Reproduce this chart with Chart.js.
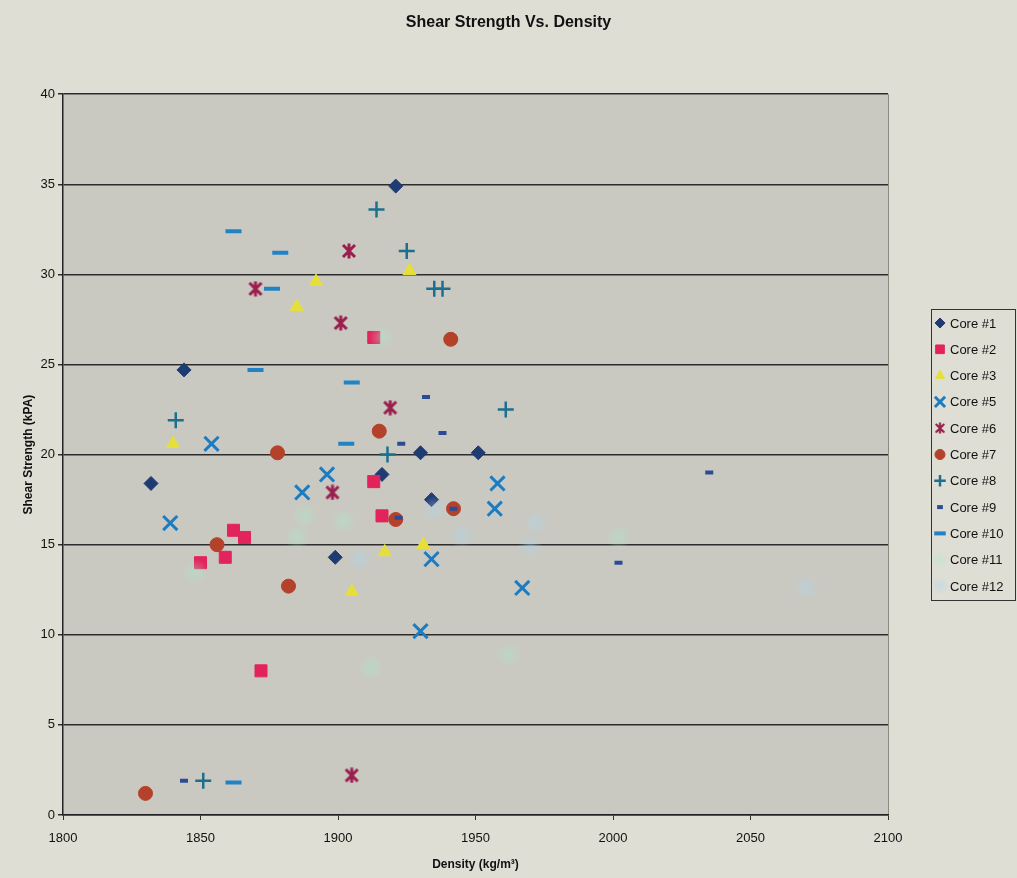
<!DOCTYPE html>
<html>
<head>
<meta charset="utf-8">
<title>Shear Strength Vs. Density</title>
<script src="https://cdn.jsdelivr.net/npm/chart.js@4.4.1/dist/chart.umd.min.js"></script>
<style>
  html, body { margin: 0; padding: 0; background: #dfded5; }
  #wrap { position: relative; width: 1017px; height: 878px; }
</style>
</head>
<body>
<div id="wrap"><canvas id="chart"></canvas></div>
<script>
// values: [density kg/m3, shear strength kPa]
const coreNames = ['Core #1', 'Core #2', 'Core #3', 'Core #5', 'Core #6', 'Core #7',
  'Core #8', 'Core #9', 'Core #10', 'Core #11', 'Core #12'];

const core1 = [[1832, 18.4], [1844, 24.7], [1921, 34.9], [1899, 14.3], [1916, 18.9], [1930, 20.1], [1934, 17.5], [1951, 20.1]];
const core2 = [[1913, 26.5], [1913, 18.5], [1916, 16.6], [1862, 15.8], [1866, 15.4], [1859, 14.3], [1850, 14.0], [1872, 8.0]];
const core3 = [[1840, 20.6], [1885, 28.2], [1892, 29.6], [1926, 30.2], [1917, 14.6], [1931, 15.0], [1905, 12.4]];
const core5 = [[1839, 16.2], [1854, 20.6], [1887, 17.9], [1896, 18.9], [1958, 18.4], [1957, 17.0], [1934, 14.2], [1967, 12.6], [1930, 10.2]];
const core6 = [[1870, 29.2], [1904, 31.3], [1901, 27.3], [1919, 22.6], [1898, 17.9], [1905, 2.2]];
const core7 = [[1830, 1.2], [1856, 15.0], [1882, 12.7], [1878, 20.1], [1915, 21.3], [1941, 26.4], [1942, 17.0], [1921, 16.4]];
const core8 = [[1841, 21.9], [1851, 1.9], [1914, 33.6], [1925, 31.3], [1935, 29.2], [1938, 29.2], [1961, 22.5], [1918, 20.0]];
const core9 = [[1844, 1.9], [1932, 23.2], [1938, 21.2], [1923, 20.6], [2035, 19.0], [2002, 14.0], [1922, 16.5], [1942, 17.0]];
const core10 = [[1862, 32.4], [1879, 31.2], [1876, 29.2], [1870, 24.7], [1905, 24.0], [1903, 20.6], [1862, 1.8]];
const core11 = [[1916, 26.5], [1888, 16.6], [1902, 16.3], [1885, 15.4], [1912, 8.2], [1962, 8.9], [2002, 15.4], [1848, 13.5]];
const core12 = [[2070, 12.6], [1972, 16.2], [1970, 14.9], [1945, 15.5], [1908, 14.2], [1935, 17.0]];

const densityTicks = [1800, 1850, 1900, 1950, 2000, 2050, 2100];
const strengthTicks = [0, 5, 10, 15, 20, 25, 30, 35, 40];

const allCores = [core1, core2, core3, core5, core6, core7, core8, core9, core10, core11, core12];

// excel style star: an X with a vertical bar
function starMarker(color, size, lw) {
  const c = document.createElement('canvas');
  c.width = c.height = size;
  const g = c.getContext('2d');
  g.strokeStyle = color;
  g.lineWidth = lw;
  const m = lw / 2 + 0.5, e = size - m;
  g.beginPath();
  g.moveTo(m, m); g.lineTo(e, e);
  g.moveTo(e, m); g.lineTo(m, e);
  g.moveTo(size / 2, 0.5); g.lineTo(size / 2, size - 0.5);
  g.stroke();
  return c;
}

// washed out markers of the last two cores
function ghostMarker(rgb, size) {
  const c = document.createElement('canvas');
  c.width = c.height = size;
  const g = c.getContext('2d');
  const grad = g.createRadialGradient(size / 2, size / 2, 0, size / 2, size / 2, size / 2);
  grad.addColorStop(0, 'rgba(' + rgb + ',0.45)');
  grad.addColorStop(0.5, 'rgba(' + rgb + ',0.22)');
  grad.addColorStop(1, 'rgba(' + rgb + ',0)');
  g.fillStyle = grad;
  g.fillRect(0, 0, size, size);
  return c;
}

const markers = [
  {style: 'rectRot', r: 7, color: '#1f3b73', w: 1},
  {style: 'rect', r: 8.5, color: '#e3245c', w: 1},
  {style: 'triangle', r: 7.5, color: '#e6df3a', w: 1},
  {style: 'crossRot', r: 10, color: '#1c7cc2', w: 3},
  {style: starMarker('#9a1f4e', 16, 3), color: '#9a1f4e'},
  {style: 'circle', r: 7, color: '#b4412a', w: 1},
  {style: 'cross', r: 8, color: '#1d6f8e', w: 2.5},
  {style: 'line', r: 4, color: '#2b4a98', w: 4},
  {style: 'line', r: 8, color: '#1f83c6', w: 4},
  {style: ghostMarker('170,235,200', 26), color: 'rgba(170,235,200,0.4)'},
  {style: ghostMarker('170,215,240', 26), color: 'rgba(170,215,240,0.4)'}
];

const datasets = allCores.map((pts, i) => {
  const mk = markers[i];
  return {
    label: coreNames[i],
    data: pts.map(p => ({x: p[0], y: p[1]})),
    pointStyle: mk.style,
    pointRadius: mk.r || 8,
    pointHoverRadius: mk.r || 8,
    pointBorderWidth: mk.w || 1,
    pointBackgroundColor: mk.color,
    pointBorderColor: mk.color,
    showLine: false,
    order: 20 - i
  };
});

const plotBg = {
  id: 'plotBg',
  beforeDraw(chart) {
    const a = chart.chartArea, ctx = chart.ctx;
    ctx.save();
    ctx.fillStyle = '#cac9c1';
    ctx.fillRect(a.left, a.top, a.right - a.left, a.bottom - a.top);
    ctx.strokeStyle = '#8a8984';
    ctx.lineWidth = 1;
    ctx.beginPath();
    ctx.moveTo(a.right + 0.5, a.top);
    ctx.lineTo(a.right + 0.5, a.bottom);
    ctx.stroke();
    ctx.restore();
  }
};

const boxLegend = {
  id: 'boxLegend',
  afterDraw(chart) {
    const ctx = chart.ctx;
    const left = 931, top = 309, width = 84, height = 291;
    const step = 26.3;
    ctx.save();
    ctx.strokeStyle = '#333';
    ctx.lineWidth = 1;
    ctx.strokeRect(left + 0.5, top + 0.5, width, height);
    ctx.font = '13px "Liberation Sans", Arial, sans-serif';
    ctx.textBaseline = 'middle';
    ctx.textAlign = 'left';
    coreNames.forEach((name, i) => {
      const mk = markers[i];
      const y = top + 14 + i * step;
      const x = left + 9;
      if (typeof mk.style === 'string') {
        ctx.fillStyle = mk.color;
        ctx.strokeStyle = mk.color;
        ctx.lineWidth = mk.w;
        Chart.helpers.drawPoint(ctx, {
          pointStyle: mk.style,
          radius: mk.r * 0.72,
          borderWidth: mk.w,
          rotation: 0
        }, x, y);
      } else {
        const s = mk.style.width * 0.72;
        ctx.drawImage(mk.style, x - s / 2, y - s / 2, s, s);
      }
      ctx.fillStyle = '#111';
      ctx.fillText(name, left + 19, y + 1);
    });
    ctx.restore();
  }
};

new Chart(document.getElementById('chart'), {
  type: 'scatter',
  data: {datasets: datasets},
  plugins: [plotBg, boxLegend],
  options: {
    responsive: true,
    maintainAspectRatio: false,
    animation: false,
    layout: {padding: 0},
    plugins: {
      legend: {display: false},
      tooltip: {enabled: false},
      title: {
        display: true,
        text: 'Shear Strength Vs. Density',
        color: '#111',
        font: {family: '"Liberation Sans", Arial, sans-serif', size: 16, weight: 'bold'},
        padding: {top: 13, bottom: 62}
      }
    },
    scales: {
      x: {
        type: 'linear',
        min: densityTicks[0],
        max: densityTicks[densityTicks.length - 1],
        afterFit: scale => { scale.height = 63; },
        ticks: {
          stepSize: densityTicks[1] - densityTicks[0],
          color: '#111',
          padding: 11,
          maxRotation: 0,
          callback: v => String(v),
          font: {family: '"Liberation Sans", Arial, sans-serif', size: 13}
        },
        grid: {drawOnChartArea: false, drawTicks: true, tickLength: 5, color: '#333'},
        border: {display: true, color: '#222', width: 1.5},
        title: {
          display: true,
          text: 'Density (kg/m³)',
          color: '#111',
          font: {family: '"Liberation Sans", Arial, sans-serif', size: 12, weight: 'bold'},
          padding: {top: 4, bottom: 6}
        }
      },
      y: {
        min: strengthTicks[0],
        max: strengthTicks[strengthTicks.length - 1],
        afterFit: scale => { scale.width = 63; },
        ticks: {
          stepSize: strengthTicks[1] - strengthTicks[0],
          color: '#111',
          padding: 3,
          font: {family: '"Liberation Sans", Arial, sans-serif', size: 13}
        },
        grid: {color: '#2c2c2c', lineWidth: 1.5, tickLength: 5},
        border: {display: true, color: '#222', width: 1.5},
        title: {
          display: true,
          text: 'Shear Strength (kPA)',
          color: '#111',
          font: {family: '"Liberation Sans", Arial, sans-serif', size: 12, weight: 'bold'},
          padding: {top: 21, bottom: 0}
        }
      },
      // empty right-hand strip that leaves room for the legend box
      legendSpace: {
        type: 'linear',
        position: 'right',
        min: strengthTicks[0],
        max: strengthTicks[strengthTicks.length - 1],
        afterFit: scale => { scale.width = 129; },
        ticks: {display: false},
        grid: {display: false, drawTicks: false},
        border: {display: false}
      }
    }
  }
});
</script>
</body>
</html>
